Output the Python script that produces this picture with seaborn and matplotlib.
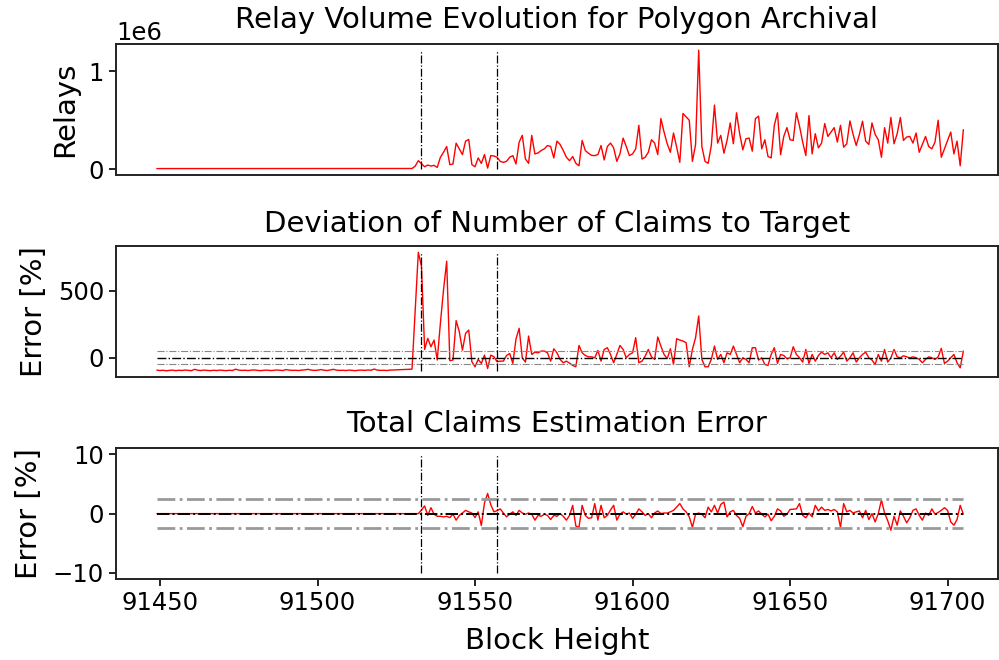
import numpy as np
import pandas as pd
import seaborn as sns
import matplotlib.pyplot as plt

# block heights 91449 .. 91705
first_block = 91449
vline_blocks = [91533, 91557]

# relays (thousands) before the change, 91449-91530
relays_pre = [
    5, 5, 4, 5, 5, 4, 5, 5, 5, 4,
    5, 5, 4, 5, 5, 5, 4, 5, 5, 5,
    4, 5, 5, 5, 4, 5, 5, 4, 5, 5,
    5, 4, 5, 5, 5, 4, 5, 5, 4, 5,
    5, 5, 4, 5, 5, 5, 4, 5, 5, 4,
    5, 5, 5, 4, 5, 5, 4, 5, 5, 5,
    4, 5, 5, 5, 4, 5, 5, 4, 5, 5,
    5, 4, 5, 5, 4, 5, 5, 5, 4, 5,
    5, 6,
]
# relays (thousands) 91531-91705
relays_post = [
    30, 86, 55, 24, 41, 31, 38, 17, 120, 172,
    231, 45, 52, 265, 207, 148, 286, 303, 45, 24,
    114, 58, 148, 10, 138, 134, 120, 79, 69, 79,
    121, 138, 52, 276, 345, 103, 59, 345, 155, 165,
    190, 207, 241, 231, 114, 286, 252, 190, 121, 86,
    128, 59, 34, 293, 190, 162, 140, 138, 148, 241,
    93, 231, 266, 217, 79, 155, 317, 231, 138, 155,
    207, 448, 103, 121, 172, 300, 266, 148, 517, 379,
    259, 172, 369, 224, 69, 569, 534, 500, 79, 250,
    1217, 231, 79, 59, 241, 655, 266, 345, 162, 293,
    472, 259, 576, 362, 197, 310, 317, 183, 517, 541,
    207, 300, 128, 114, 448, 576, 148, 334, 424, 300,
    293, 576, 438, 276, 138, 548, 155, 362, 217, 266,
    466, 334, 379, 424, 276, 448, 224, 259, 493, 355,
    241, 355, 490, 286, 252, 472, 355, 300, 121, 424,
    266, 528, 259, 362, 528, 293, 328, 334, 266, 369,
    172, 252, 334, 231, 207, 276, 500, 121, 207, 293,
    379, 155, 286, 34, 403,
]

# deviation of number of claims to target [%]
claims_dev_pre = [
    -92, -95, -93, -97, -94, -92, -96, -93, -95, -91,
    -94, -96, -86, -93, -95, -92, -94, -96, -93, -95,
    -92, -94, -96, -93, -95, -85, -92, -94, -93, -95,
    -92, -91, -94, -96, -93, -92, -95, -94, -91, -93,
    -95, -88, -92, -94, -93, -95, -92, -90, -86, -92,
    -94, -93, -88, -92, -95, -91, -86, -92, -94, -93,
    -95, -92, -94, -96, -93, -92, -94, -91, -93, -84,
    -92, -94, -93, -95, -92, -91, -90, -89, -88, -87,
    -86, -85,
]
claims_dev_post = [
    350, 787, 682, 62, 145, 82, 132, -17, 257, 507,
    720, -22, -17, 277, 195, 57, 182, 207, -30, -67,
    -12, -42, 20, -80, 20, 8, -30, -25, -25, 17,
    32, -42, 140, 220, 0, -32, 162, 25, 42, 37,
    50, 50, 37, -25, 67, 37, -12, -37, -25, -40,
    -57, -67, 92, 37, 17, 7, 7, 0, 55, -25,
    62, 75, 25, -37, 25, 92, 62, 0, 25, 37,
    150, -37, -25, 12, 62, 7, -12, 155, 87, 25,
    -7, 67, -50, 142, 132, 125, 112, -67, 62, 150,
    312, -12, -67, -67, -12, 87, -12, 25, -37, 37,
    25, 87, 25, -37, 0, -12, -37, 75, 75, -17,
    0, -50, -57, 25, 75, -42, 25, 17, -7, 0,
    82, 25, 0, -32, 62, -42, 25, -25, 17, 42,
    25, 37, 0, 37, -12, 12, 42, -25, 0, 37,
    -32, 0, 25, 42, 0, -17, -50, 25, -25, 62,
    -32, 0, 62, 7, 0, 15, 7, 0, 7, 0,
    -12, -37, -12, 7, 0, -12, 7, 70, -42, -25,
    0, 25, -37, -75, 50,
]

# total claims estimation error [%]
total_err_pre = [
    0, 0, 0, 0, 0, 0, 0, 0, 0, 0,
    0, 0, 0, 0, 0, 0, 0, 0, 0, 0,
    0, 0, 0, 0, 0, 0, 0, 0, 0, 0,
    0, 0, 0, 0, 0, 0, 0, 0, 0, 0,
    0, 0, 0, 0, 0, 0, 0, 0, 0, 0,
    0, 0, 0, 0, 0, 0, 0, 0, 0, 0,
    0, 0, 0, 0, 0, 0, 0, 0, 0, 0,
    0, 0, 0, 0, 0, 0, 0, 0, 0, 0,
    0, 0,
]
total_err_post = [
    0, 0, 0.6, 1.3, -0.3, 1.0, -0.1, -0.45, -0.45, -0.55,
    -0.45, -0.67, -0.1, -1.1, -0.3, 0.1, 0.55, 0.3, 0.1, -0.67,
    0.3, -2.0, 1.8, 3.4, 1.5, 0.3, 0.5, 0.8, 0.1, -0.55,
    -0.1, 0.3, -0.3, 0.55, 0.1, -0.1, 0.1, -0.1, -1.1, -0.3,
    -0.45, -0.1, -0.3, -1.0, -0.3, -0.45, 0, -0.45, -1.1, -0.3,
    1.4, -2.1, -2.3, 1.4, -0.3, -0.8, -0.7, 1.7, -1.1, 1.4,
    -0.7, -0.3, 0.6, 1.4, -1.1, -0.1, 0.3, -0.1, 0.1, -0.8,
    -0.1, 0.8, 0.3, -0.3, 0, -0.7, 0.1, 0.45, 0, 0.1,
    0.1, 0.3, 0.55, 1.1, 1.7, 0.8, 0.3, -0.55, -2.3, -0.1,
    0.1, -0.1, -0.7, 1.1, 0.3, 1.4, 0.1, 1.55, 1.95, -0.55,
    0.3, 0.55, -0.3, -0.8, -2.2, -0.45, 0, 1.2, 0.1, 0.45,
    -0.1, -0.55, -0.1, -1.2, -0.45, 0.8, 0.45, -0.45, -0.1, 0.7,
    0.75, 0.8, 1.7, -0.3, -0.7, 0.1, -0.55, 1.4, 0.45, 1.1,
    0.55, 0.7, 0.45, 0.7, 0.3, -2.3, 1.7, 0.3, 0.55, 0.1,
    0.3, 0.45, -0.7, 0.55, -1.0, 0, -1.4, 0, 2.3, 0.1,
    -1.2, -2.8, -0.45, -1.95, 0.45, -0.45, -1.55, -0.7, 0.55, 0.8,
    -0.3, -1.1, 0.1, -0.3, 0.8, -0.1, 0.2, 0.55, 1.0, 0.55,
    -1.4, -1.95, -1.0, 1.4, -0.1,
]

relays = np.array(relays_pre + relays_post) * 1000
claims_dev = np.array(claims_dev_pre + claims_dev_post, dtype=float)
total_err = np.array(total_err_pre + total_err_post, dtype=float)
blocks = np.arange(first_block, first_block + len(relays))

df = pd.DataFrame({'block': blocks, 'relays': relays,
                   'claims_dev': claims_dev, 'total_err': total_err})

sns.set_theme(style="ticks", rc={
    "axes.edgecolor": "#222222",
    "axes.linewidth": 1.4,
    "xtick.major.size": 5,
    "ytick.major.size": 5,
    "xtick.major.width": 1.4,
    "ytick.major.width": 1.4,
    "xtick.color": "#222222",
    "ytick.color": "#222222",
    "xtick.labelcolor": "black",
    "ytick.labelcolor": "black",
    "text.color": "black",
    "axes.labelcolor": "black",
    "xtick.labelsize": 17.5,
    "ytick.labelsize": 17.5,
    "axes.labelsize": 21,
    "axes.titlesize": 21,
})
plt.rcParams['font.family'] = ['DejaVu Sans']

fig, axes = plt.subplots(3, 1, figsize=(9.99, 6.6), dpi=100, sharex=True)
fig.subplots_adjust(left=0.116, right=0.999, top=0.933, bottom=0.123, hspace=0.55)
x0, x1 = blocks[0], blocks[-1]

# relay volume
ax = axes[0]
sns.lineplot(data=df, x='block', y='relays', color='red', lw=1, ax=ax)
ax.vlines(vline_blocks, df['relays'].min(), df['relays'].max(), colors='black',
          linestyles='-.', lw=0.9)
ax.set_title('Relay Volume Evolution for Polygon Archival', pad=12)
ax.set_ylabel('Relays', labelpad=7)
ax.yaxis.get_offset_text().set_fontsize(17.5)

# deviation of number of claims
ax = axes[1]
sns.lineplot(data=df, x='block', y='claims_dev', color='red', lw=1, ax=ax)
ax.hlines([50, -50], x0, x1, colors='#888888', linestyles='-.', lw=0.8)
ax.hlines(0, x0, x1, colors='black', linestyles='-.', lw=1)
ax.vlines(vline_blocks, df['claims_dev'].min(), df['claims_dev'].max(), colors='black',
          linestyles='-.', lw=0.9)
ax.set_title('Deviation of Number of Claims to Target', pad=10)
ax.set_ylabel('Error [%]', labelpad=7)

# total claims estimation error
ax = axes[2]
sns.lineplot(data=df, x='block', y='total_err', color='red', lw=1, ax=ax)
ax.hlines([2.5, -2.5], x0, x1, colors='#999999', linestyles='-.', lw=2)
ax.hlines(0, x0, x1, colors='black', linestyles='-.', lw=1.4)
ax.vlines(vline_blocks, -10, 10, colors='black', linestyles='-.', lw=0.9)
ax.set_ylim(-11, 11)
ax.set_title('Total Claims Estimation Error', pad=12)
ax.set_ylabel('Error [%]', labelpad=7)
ax.set_xlabel('Block Height', labelpad=9)
ax.set_xlim(91436, 91716)

for ax in axes[:2]:
    ax.tick_params(axis='x', bottom=False, labelbottom=False)
    ax.set_xlabel('')

fig.savefig('out.png', dpi=100)
